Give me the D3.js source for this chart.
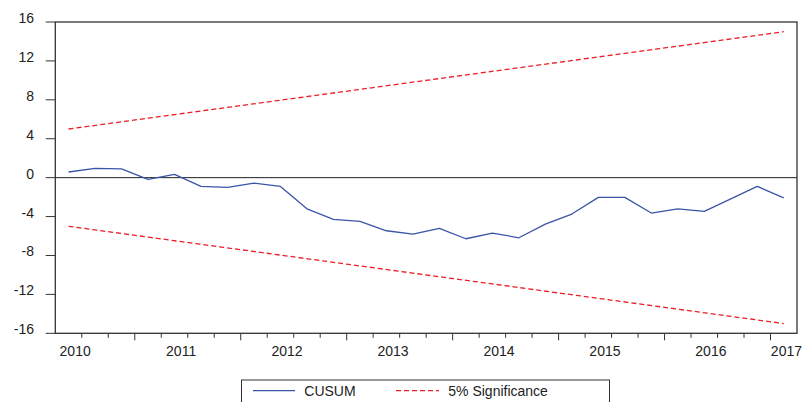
<!DOCTYPE html>
<html>
<head>
<meta charset="utf-8">
<script src="https://cdn.jsdelivr.net/npm/d3@7"></script>
<style>
  html, body { margin: 0; padding: 0; background: #fff; }
  svg { display: block; font-family: "Liberation Sans", Arial, sans-serif; }
</style>
</head>
<body>
<svg id="chart" width="805" height="402"></svg>
<script>
// ---- data ----
const periods = [
  "2010Q2","2010Q3","2010Q4",
  "2011Q1","2011Q2","2011Q3","2011Q4",
  "2012Q1","2012Q2","2012Q3","2012Q4",
  "2013Q1","2013Q2","2013Q3","2013Q4",
  "2014Q1","2014Q2","2014Q3","2014Q4",
  "2015Q1","2015Q2","2015Q3","2015Q4",
  "2016Q1","2016Q2","2016Q3","2016Q4",
  "2017Q1"
];
const cusum = [
  0.58, 0.95, 0.91, -0.18, 0.33, -0.90, -1.00, -0.56,
  -0.90, -3.20, -4.29, -4.50, -5.46, -5.80, -5.22, -6.28,
  -5.70, -6.18, -4.78, -3.74, -2.03, -2.03, -3.64, -3.20,
  -3.47, -2.18, -0.90, -2.07
];
const boundPeriods = ["2010Q2", "2017Q1"];
const upper = [5.0, 15.0];
const lower = [-5.0, -15.0];
const yTicks = [-16, -12, -8, -4, 0, 4, 8, 12, 16];
const yearLabels = ["2010","2011","2012","2013","2014","2015","2016","2017"];

// ---- layout ----
const svg = d3.select("#chart");
const L = 55.3, R = 797, T = 22, B = 333.3;
const axisColor = "#333";
const textColor = "#222";

const x = d3.scaleBand().domain(periods).range([L, R]).paddingInner(0).paddingOuter(0);
const bw = x.bandwidth();
const xc = p => x(p) + bw / 2;
const y = d3.scaleLinear().domain([-16, 16]).range([B, T]);

// x ticks (quarter boundaries)
const gx = svg.append("g");
periods.forEach((p, i) => {
  if (i === 0) return;
  const xx = x(p);
  const isYear = p.endsWith("Q1");
  gx.append("line")
    .attr("x1", xx).attr("x2", xx)
    .attr("y1", B).attr("y2", B + (isYear ? 7 : 4.5))
    .attr("stroke", axisColor).attr("stroke-width", 1);
});

// x labels
yearLabels.forEach(yr => {
  const idxQ1 = (+yr - 2010) * 4 - 1; // index of Q1 of that year relative to first period
  let cx = L + (idxQ1 + 1.75) * bw;
  const t = gx.append("text")
    .attr("x", cx).attr("y", 355.5)
    .attr("text-anchor", "middle")
    .attr("font-size", 14)
    .attr("fill", textColor)
    .text(yr);
  const w = t.node().getComputedTextLength();
  if (cx + w / 2 > 802) t.attr("x", 802 - w / 2);
});

// y ticks and labels
const gy = svg.append("g");
yTicks.forEach(v => {
  const yy = y(v);
  gy.append("line")
    .attr("x1", 45.7).attr("x2", L)
    .attr("y1", yy).attr("y2", yy)
    .attr("stroke", axisColor).attr("stroke-width", 1);
  gy.append("text")
    .attr("x", 34).attr("y", yy + 1)
    .attr("text-anchor", "end")
    .attr("font-size", 14)
    .attr("fill", textColor)
    .text(v);
});

// zero line
svg.append("line")
  .attr("x1", L).attr("x2", R)
  .attr("y1", y(0)).attr("y2", y(0))
  .attr("stroke", "#222").attr("stroke-width", 1);

// significance bounds
const boundLine = d3.line().x(d => xc(d[0])).y(d => y(d[1]));
[upper, lower].forEach(arr => {
  svg.append("path")
    .datum(boundPeriods.map((p, i) => [p, arr[i]]))
    .attr("d", boundLine)
    .attr("fill", "none")
    .attr("stroke", "#EE1C25")
    .attr("stroke-width", 1.3)
    .attr("stroke-dasharray", "5,3");
});

// CUSUM line
svg.append("path")
  .datum(periods.map((p, i) => [p, cusum[i]]))
  .attr("d", boundLine)
  .attr("fill", "none")
  .attr("stroke", "#3A55A8")
  .attr("stroke-width", 1.3)
  .attr("stroke-linejoin", "round");

// frame
svg.append("rect")
  .attr("x", L).attr("y", T)
  .attr("width", R - L).attr("height", B - T)
  .attr("fill", "none")
  .attr("stroke", axisColor).attr("stroke-width", 1.3);

// legend
const lg = svg.append("g");
lg.append("rect")
  .attr("x", 241.5).attr("y", 380)
  .attr("width", 368).attr("height", 40)
  .attr("fill", "#fff")
  .attr("stroke", axisColor).attr("stroke-width", 1);
lg.append("line")
  .attr("x1", 253).attr("x2", 295).attr("y1", 390.7).attr("y2", 390.7)
  .attr("stroke", "#3A55A8").attr("stroke-width", 1.3);
lg.append("text")
  .attr("x", 304.3).attr("y", 395.7)
  .attr("font-size", 14).attr("fill", textColor)
  .text("CUSUM");
lg.append("line")
  .attr("x1", 396).attr("x2", 439).attr("y1", 390.7).attr("y2", 390.7)
  .attr("stroke", "#EE1C25").attr("stroke-width", 1.3)
  .attr("stroke-dasharray", "5,3");
lg.append("text")
  .attr("x", 448.3).attr("y", 395.7)
  .attr("font-size", 14).attr("fill", textColor)
  .text("5% Significance");
</script>
</body>
</html>
